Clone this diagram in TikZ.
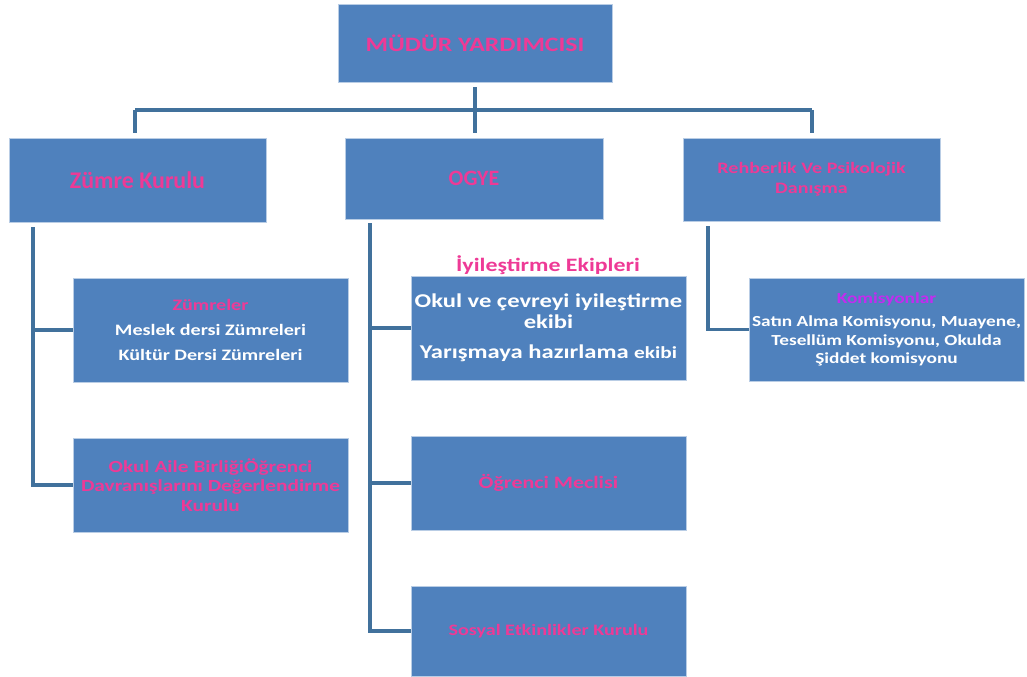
\documentclass[tikz,border=0pt]{standalone}
\usepackage{fontspec}
\setmainfont{Carlito}
\newfontfamily\widefont[FakeStretch=1.26]{Carlito}
\definecolor{boxfill}{HTML}{4F81BD}
\definecolor{boxedge}{HTML}{B9CDE5}
\definecolor{connc}{HTML}{41719C}
\definecolor{pinktxt}{HTML}{EE3A96}
\definecolor{magtxt}{HTML}{C32BF0}
\tikzset{
  box/.style={draw=boxedge, line width=0.8bp, fill=boxfill, inner sep=0bp, align=center},
  conn/.style={draw=connc, line width=3.8bp, line join=miter},
}
\newcommand{\fs}[1]{\fontsize{#1}{#1}\selectfont}
\begin{document}
\begin{tikzpicture}[x=1bp,y=-1bp]
\useasboundingbox (0,0) rectangle (1027,677);
% boxes
\node[box, minimum width=274bp, minimum height=78bp, text=pinktxt, font=\widefont\bfseries\fs{20.5}] (top) at (475,43) {MÜDÜR YARDIMCISI};
\node[box, minimum width=257bp, minimum height=84bp, text=pinktxt, font=\bfseries\fs{24}] (zk) at (137.5,180) {Zümre Kurulu};
\node[box, minimum width=258bp, minimum height=81bp, text=pinktxt, font=\bfseries\fs{22}] (ogye) at (474,178.5) {OGYE};
\node[box, minimum width=257bp, minimum height=83bp, text=pinktxt, font=\widefont\bfseries\fs{16}] (rpd) at (811.5,179.5) {Rehberlik Ve Psikolojik\\[4bp]Danışma};
\node[box, minimum width=275bp, minimum height=104bp, text=white, font=\widefont\bfseries\fs{16}] (zum) at (210.5,330) {{\color{pinktxt}Zümreler}\\[9bp]Meslek dersi Zümreleri\\[10bp]Kültür Dersi Zümreleri};
\node[box, minimum width=275bp, minimum height=94bp, text=pinktxt, font=\widefont\bfseries\fs{17}] (oab) at (210.5,485) {Okul Aile BirliğiÖğrenci\\[2bp]Davranışlarını Değerlendirme\\[3bp]Kurulu};
\node[box, minimum width=275bp, minimum height=104bp, text=white, font=\widefont\bfseries\fs{19.6}] (iyi) at (548.5,328) {Okul ve çevreyi iyileştirme\\[1bp]ekibi\\[11bp]Yarışmaya hazırlama {\fs{17}ekibi}};
\node[text=pinktxt, font=\widefont\bfseries\fs{19}, inner sep=0] (iyit) at (548,265) {İyileştirme Ekipleri};
\node[box, minimum width=275bp, minimum height=94bp, text=pinktxt, font=\widefont\bfseries\fs{17.5}] (om) at (548.5,483) {Öğrenci Meclisi};
\node[box, minimum width=275bp, minimum height=90bp, text=pinktxt, font=\widefont\bfseries\fs{16}] (sek) at (548.5,631) {Sosyal Etkinlikler Kurulu};
\node[box, minimum width=275bp, minimum height=103bp, text=white, font=\widefont\bfseries\fs{15.4}] (kom) at (886.5,329.5) {{\color{magtxt}Komisyonlar}\\[8bp]Satın Alma Komisyonu, Muayene,\\[3bp]Tesellüm Komisyonu, Okulda\\[3bp]Şiddet komisyonu};
% connectors
\draw[conn, shorten <=5bp, shorten >=5bp] (top.south) -- (ogye.north -| top.south);
\draw[conn] (135,110) coordinate (busl) -- (812,110) coordinate (busr);
\draw[conn, shorten >=5bp] (busl) -- (busl |- zk.north);
\draw[conn, shorten >=5bp] (busr) -- (busr |- rpd.north);
% left branch
\coordinate (lv) at (33,222);
\draw[conn, shorten <=5bp] (lv) -- (lv |- oab.west) -- (oab.west);
\draw[conn] (lv |- zum.west) -- (zum.west);
% middle branch
\coordinate (mv) at (370,219);
\draw[conn, shorten <=4bp] (mv) -- (mv |- sek.west) -- (sek.west);
\draw[conn] (mv |- iyi.west) -- (iyi.west);
\draw[conn] (mv |- om.west) -- (om.west);
% right branch
\coordinate (rv) at (708,221);
\draw[conn, shorten <=5bp] (rv) -- (rv |- kom.west) -- (kom.west);
\end{tikzpicture}
\end{document}
